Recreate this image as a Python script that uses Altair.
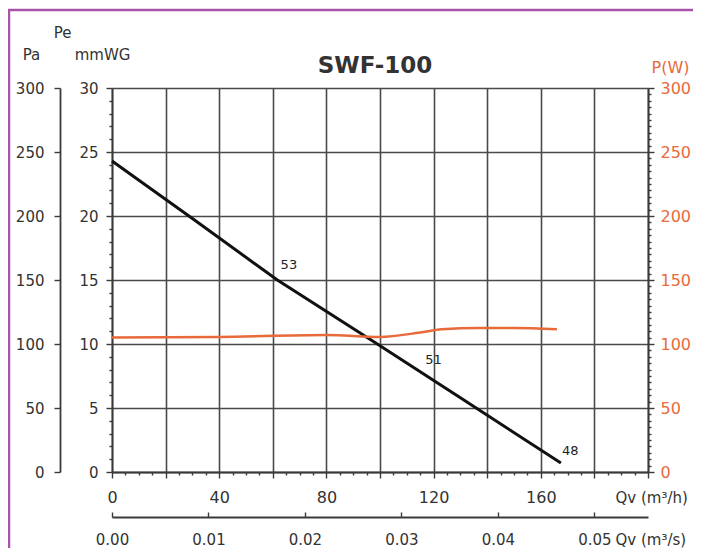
import altair as alt
import pandas as pd

# Static pressure curve (mmWG) vs airflow (m3/h)
qv_pe = [0, 30, 61.7, 99, 130, 167.5]
pe_mmwg = [24.3, 19.8, 15.0, 10.0, 5.8, 0.7]

# Power curve (W) vs airflow (m3/h)
qv_pw = [0, 40, 80, 100, 115, 123, 137, 150, 166]
pw = [105, 105.5, 107, 105.5, 109, 111.5, 112.5, 112.5, 111.5]

# Curve annotations
qv_lbl = [66, 120, 171]
pe_lbl = [16.2, 8.75, 1.65]
lbl_txt = ["53", "51", "48"]

chart_title = ["SWF-100"]

# Axis tick values
x_ticks = list(range(0, 201, 5))
mmwg_ticks = list(range(0, 31, 1))
pw_ticks = list(range(0, 301, 5))
pa_ticks = list(range(0, 301, 50))
qs_ticks = [0.0, 0.01, 0.02, 0.03, 0.04, 0.05]

FONT = "DejaVu Sans"
DARK = "#3a3a3a"
ORANGE = "#e8693a"

pe_df = pd.DataFrame({"qv": qv_pe, "pe": pe_mmwg})
pw_df = pd.DataFrame({"qv": qv_pw, "pw": pw})
lbl_df = pd.DataFrame({"qv": qv_lbl, "pe": pe_lbl, "t": lbl_txt})
frame_df = pd.DataFrame({"k": [0]})
title_df = pd.DataFrame({"t": chart_title})

xs = alt.Scale(domain=[0, 200], nice=False, zero=False)
ys_mm = alt.Scale(domain=[0, 30], nice=False)
ys_w = alt.Scale(domain=[0, 300], nice=False)

x_axis = alt.Axis(
    orient="bottom", values=x_ticks, title="Qv (m³/h)",
    labelExpr="datum.value % 40 === 0 && datum.value < 200 ? datum.label : ''",
    tickSize={"condition": {"test": "datum.value % 20 === 0", "value": 6}, "value": 3},
    grid=True,
    gridOpacity={"condition": {"test": "datum.value % 20 === 0", "value": 1}, "value": 0},
    gridColor="#4a4a4a", gridWidth=1.6,
    domainColor=DARK, domainWidth=1.8, tickColor=DARK, tickWidth=1.4,
    labelFont=FONT, labelFontSize=16, labelColor="#333", labelBaseline="middle",
    labelPadding=19, labelFlush=False, labelOverlap=False,
    titleX=503, titleY=25, titleAlign="left", titleBaseline="middle",
    titleFont=FONT, titleFontSize=15, titleFontWeight="normal", titleColor="#333",
)

y_axis = alt.Axis(
    orient="left", values=mmwg_ticks,
    labelExpr="datum.value % 5 === 0 ? datum.label : ''",
    tickSize={"condition": {"test": "datum.value % 5 === 0", "value": 6}, "value": 3},
    grid=True,
    gridOpacity={"condition": {"test": "datum.value % 5 === 0", "value": 1}, "value": 0},
    gridColor="#4a4a4a", gridWidth=1.6,
    domainColor=DARK, domainWidth=1.8, tickColor=DARK, tickWidth=1.4,
    labelFont=FONT, labelFontSize=15, labelColor="#333", labelPadding=8,
    labelBaseline="middle", labelOverlap=False, labelFlush=False,
    title="mmWG", titleAngle=0, titleAlign="center",
    titleX=-10, titleY=-34, titleBaseline="middle",
    titleFont=FONT, titleFontSize=15, titleFontWeight="normal", titleColor="#333",
)

pe_line = alt.Chart(pe_df).mark_line(color="#111111", strokeWidth=3).encode(
    x=alt.X("qv:Q", scale=xs, axis=x_axis),
    y=alt.Y("pe:Q", scale=ys_mm, axis=y_axis),
)

pe_title_axis = alt.Axis(
    orient="left", domain=False, ticks=False, labels=False, grid=False,
    title="Pe", titleAngle=0, titleAlign="center", titleX=-50, titleY=-56,
    titleBaseline="middle", titleFont=FONT, titleFontSize=15,
    titleFontWeight="normal", titleColor="#333",
)

labels = alt.Chart(lbl_df).mark_text(font=FONT, fontSize=13, color="#222").encode(
    x=alt.X("qv:Q", scale=xs, axis=None),
    y=alt.Y("pe:Q", scale=ys_mm, axis=pe_title_axis),
    text="t:N",
)

pw_axis = alt.Axis(
    orient="right", values=pw_ticks,
    labelExpr="datum.value % 50 === 0 ? datum.label : ''",
    tickSize={"condition": {"test": "datum.value % 50 === 0", "value": 6}, "value": 3},
    grid=False, domainColor=DARK, domainWidth=1.8, tickColor=DARK, tickWidth=1.4,
    labelFont=FONT, labelFontSize=16, labelColor=ORANGE, labelPadding=6,
    labelBaseline="middle", labelOverlap=False, labelFlush=False,
    title="P(W)", titleAngle=0, titleAlign="center", titleX=22, titleY=-21,
    titleBaseline="middle", titleFont=FONT, titleFontSize=16,
    titleFontWeight="normal", titleColor=ORANGE,
)

pw_line = alt.Chart(pw_df).mark_line(color=ORANGE, strokeWidth=2.5, interpolate="monotone").encode(
    x=alt.X("qv:Q", scale=xs, axis=None),
    y=alt.Y("pw:Q", scale=ys_w, axis=pw_axis),
)

pa_axis = alt.Axis(
    orient="left", offset=52, values=pa_ticks, tickSize=6,
    grid=False, domainColor=DARK, domainWidth=1.8, tickColor=DARK, tickWidth=1.4,
    labelFont=FONT, labelFontSize=15, labelColor="#333", labelPadding=10,
    labelBaseline="middle", labelOverlap=False, labelFlush=False,
    title="Pa", titleAngle=0, titleAlign="center", titleX=-29, titleY=-34,
    titleBaseline="middle", titleFont=FONT, titleFontSize=15,
    titleFontWeight="normal", titleColor="#333",
)

pa_layer = alt.Chart(pw_df).mark_point(opacity=0).encode(
    x=alt.X("qv:Q", scale=xs, axis=None),
    y=alt.Y("pw:Q", scale=ys_w, axis=pa_axis),
)

qs_axis = alt.Axis(
    orient="top", offset=-429, values=qs_ticks, format=".2f", tickSize=5,
    grid=False, domainColor=DARK, domainWidth=2, tickColor=DARK, tickWidth=1.4,
    labelFont=FONT, labelFontSize=15, labelColor="#333", labelPadding=-27,
    labelBaseline="middle", labelOverlap=False, labelFlush=False,
    title="Qv (m³/s)", titleX=503, titleY=22, titleAlign="left",
    titleBaseline="middle", titleFont=FONT, titleFontSize=15,
    titleFontWeight="normal", titleColor="#333",
)

qs_layer = alt.Chart(pw_df).mark_point(opacity=0).transform_calculate(
    qs="datum.qv / 3600"
).encode(
    x=alt.X("qs:Q", scale=alt.Scale(domain=[0, 200 / 3600], nice=False, zero=False), axis=qs_axis),
    y=alt.Y("pw:Q", scale=ys_w, axis=None),
)

title_mark = alt.Chart(title_df).mark_text(
    font=FONT, fontSize=23, fontWeight="bold", color="#333", baseline="middle", align="center"
).encode(
    x=alt.value(263), y=alt.value(-22), text="t:N",
)

frame = alt.Chart(frame_df).mark_rect(filled=False, stroke="#a653a8", strokeWidth=2.5).encode(
    x=alt.value(-103), x2=alt.value(640), y=alt.value(-78), y2=alt.value(520),
)

chart = alt.layer(pe_line, labels, pw_line, pa_layer, qs_layer, title_mark, frame).resolve_scale(
    x="independent", y="independent"
).properties(
    width=536, height=384,
    autosize=alt.AutoSizeParams(type="none"),
    padding={"left": 104, "top": 80, "right": 45, "bottom": 76},
    background="white",
).configure_view(stroke=None)

chart.save("out.html", embed_options={"renderer": "svg", "actions": False})
